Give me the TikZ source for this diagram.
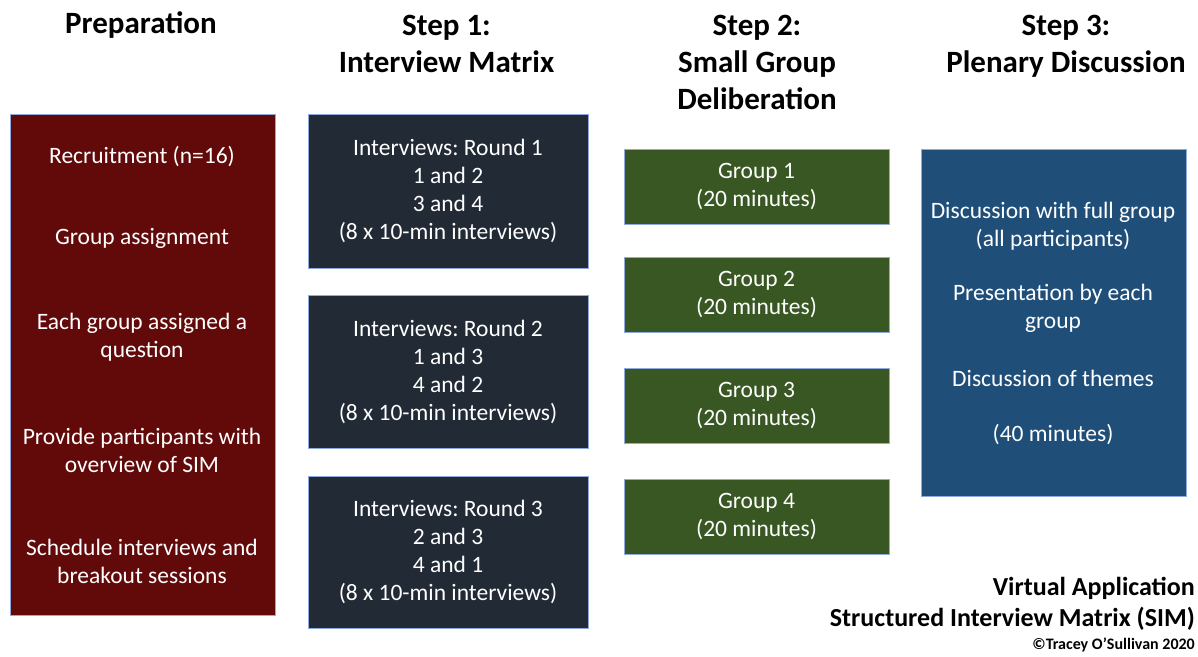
\documentclass[tikz,border=0pt]{standalone}
\usepackage{fontspec}
\setmainfont{Carlito}
\definecolor{prepred}{HTML}{620A0A}
\definecolor{stepdark}{HTML}{222A35}
\definecolor{stepgreen}{HTML}{385723}
\definecolor{stepblue}{HTML}{1F4E79}
\definecolor{edgeblue}{HTML}{8FAADC}
\tikzset{
  box/.style={draw=edgeblue, line width=0.8pt, inner sep=0pt, text=white, align=center, font=\fontsize{23.5}{28}\selectfont},
  txt/.style={text=white, align=center, font=\fontsize{23.5}{28}\selectfont, inner sep=0pt},
  head/.style={align=center, font=\fontsize{31}{37}\selectfont\bfseries, inner sep=0pt},
}
\frenchspacing
\begin{document}
\begin{tikzpicture}[x=1pt,y=-1pt]
\useasboundingbox (0,0) rectangle (1198,656);
% headings
\node[head] (hprep) at (141,25) {Preparation};
\node[head] (hs1) at (446.5,43.5) {Step 1:\\Interview Matrix};
\node[head] (hs2) at (757,62) {Step 2:\\Small Group\\Deliberation};
\node[head] (hs3) at (1066,46) {Step 3:\\Plenary Discussion};
% preparation
\node[box, fill=prepred, minimum width=265pt, minimum height=501pt] (prep) at (142.5,364.5) {};
\node[txt] (p1) at (142,157) {Recruitment (n=16)};
\node[txt] (p2) at (142,238) {Group assignment};
\node[txt] (p3) at (142,337) {Each group assigned a\\question};
\node[txt] (p4) at (142,450) {Provide participants with\\overview of SIM};
\node[txt] (p5) at (142,561.5) {Schedule interviews and\\breakout sessions};
% step 1
\node[box, fill=stepdark, minimum width=280pt, minimum height=154pt] (r1) at (448,191) {Interviews: Round 1\\1 and 2\\3 and 4\\(8 x 10-min interviews)};
\node[box, fill=stepdark, minimum width=280pt, minimum height=153pt] (r2) at (448,371.5) {Interviews: Round 2\\1 and 3\\4 and 2\\(8 x 10-min interviews)};
\node[box, fill=stepdark, minimum width=280pt, minimum height=152pt] (r3) at (448,552) {Interviews: Round 3\\2 and 3\\4 and 1\\(8 x 10-min interviews)};
% step 2
\node[box, fill=stepgreen, minimum width=265pt, minimum height=75pt] (g1) at (756.5,186.5) {Group 1\\(20 minutes)};
\node[box, fill=stepgreen, minimum width=265pt, minimum height=75pt] (g2) at (756.5,294.5) {Group 2\\(20 minutes)};
\node[box, fill=stepgreen, minimum width=265pt, minimum height=75pt] (g3) at (756.5,405.5) {Group 3\\(20 minutes)};
\node[box, fill=stepgreen, minimum width=265pt, minimum height=75pt] (g4) at (756.5,516.5) {Group 4\\(20 minutes)};
% step 3
\node[box, fill=stepblue, minimum width=265pt, minimum height=347pt] (plen) at (1053.5,322.5) {};
\node[txt] (d1) at (1053,226) {Discussion with full group\\(all participants)};
\node[txt] (d2) at (1053,308) {Presentation by each\\group};
\node[txt] (d3) at (1053,378) {Discussion of themes};
\node[txt] (d4) at (1053,435) {(40 minutes)};
% footer
\node[align=right, anchor=east, inner sep=0pt, font=\fontsize{26}{31}\selectfont\bfseries] (foot) at (1195,604) {Virtual Application\\Structured Interview Matrix (SIM)};
\node[anchor=east, inner sep=0pt, font=\fontsize{16}{19}\selectfont\bfseries] (copy) at (1195,645) {©Tracey O’Sullivan 2020};
\end{tikzpicture}
\end{document}
